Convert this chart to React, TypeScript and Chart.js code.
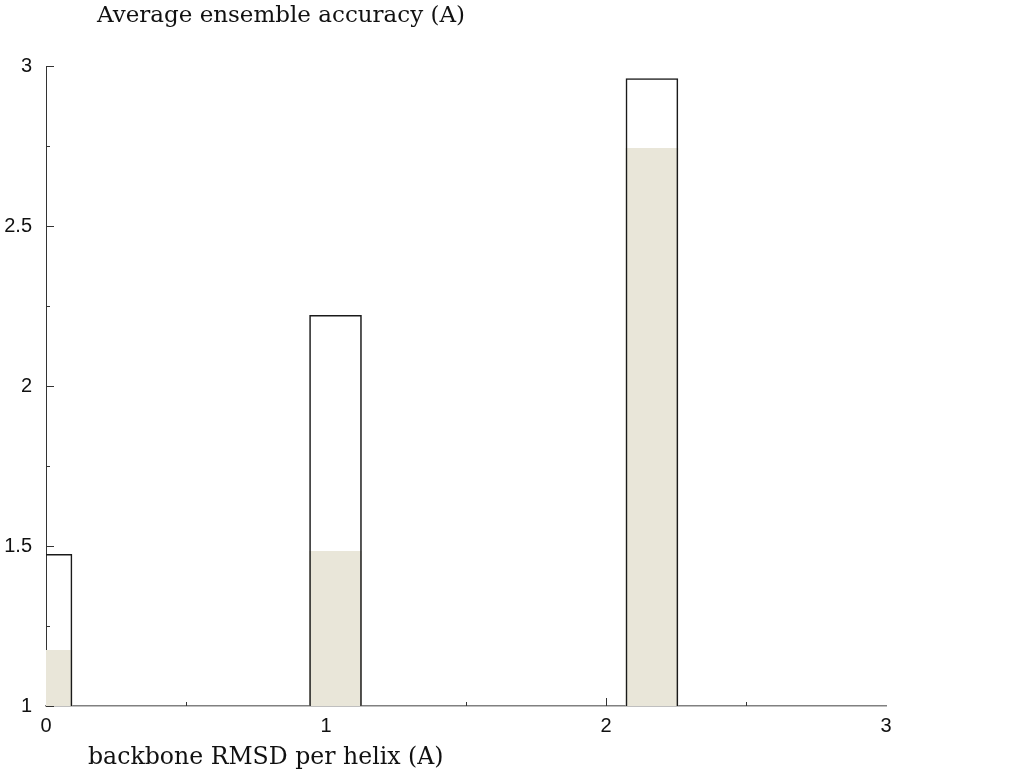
import React, { useEffect, useRef } from "react";
import { Chart, registerables } from "chart.js";

Chart.register(...registerables);

// ---- data ----
const barCenters = [0, 1.034, 2.164];
const totalAccuracy = [1.475, 2.222, 2.962];
const filledAccuracy = [1.175, 1.484, 2.744];
const xMajorTicks = [0, 1, 2, 3];
const xMinorTicks = [0.5, 1.5, 2.5];
const yMajorTicks = [1, 1.5, 2, 2.5, 3];
const yMinorTicks = [1.25, 1.75, 2.25, 2.75];
const chartTitle = "Average ensemble accuracy (A)";
const xAxisTitle = "backbone RMSD per helix (A)";
const barWidthInUnits = 0.188;

const inwardTicks = {
  id: "inwardTicks",
  beforeDatasetsDraw(chart: any) {
    const { ctx, chartArea, scales } = chart;
    const x = scales.x;
    const y = scales.y;
    ctx.save();
    ctx.strokeStyle = "#333";
    ctx.lineWidth = 1;
    const xt = (v: number, len: number) => {
      const px = Math.round(x.getPixelForValue(v)) + 0.5;
      ctx.beginPath();
      ctx.moveTo(px, chartArea.bottom);
      ctx.lineTo(px, chartArea.bottom - len);
      ctx.stroke();
    };
    const yt = (v: number, len: number) => {
      const py = Math.round(y.getPixelForValue(v)) + 0.5;
      ctx.beginPath();
      ctx.moveTo(chartArea.left, py);
      ctx.lineTo(chartArea.left + len, py);
      ctx.stroke();
    };
    xMajorTicks.slice(0, -1).forEach((v) => xt(v, 8));
    xMinorTicks.forEach((v) => xt(v, 4));
    yMajorTicks.forEach((v) => yt(v, 8));
    yMinorTicks.forEach((v) => yt(v, 4));
    ctx.restore();
  },
};

const textLabels = {
  id: "textLabels",
  afterDraw(chart: any) {
    const { ctx, chartArea } = chart;
    ctx.save();
    ctx.fillStyle = "#111";
    ctx.textAlign = "left";
    ctx.textBaseline = "alphabetic";
    ctx.font = "23px 'DejaVu Serif', serif";
    ctx.fillText(chartTitle, chartArea.left + 51, 22);
    ctx.font = "23.6px 'DejaVu Serif', serif";
    ctx.fillText(xAxisTitle, chartArea.left + 42, chartArea.bottom + 58);
    ctx.restore();
  },
};

export default function App() {
  const canvasRef = useRef<HTMLCanvasElement | null>(null);

  useEffect(() => {
    if (!canvasRef.current) return;
    const chart = new Chart(canvasRef.current, {
      type: "bar",
      data: {
        datasets: [
          {
            label: "filled",
            data: barCenters.map((c, i) => ({ x: c, y: filledAccuracy[i] })),
            backgroundColor: "#e9e6d9",
            borderWidth: 0,
            grouped: false,
            categoryPercentage: 1,
            barPercentage: barWidthInUnits,
            clip: 0,
            order: 1,
          } as any,
          {
            label: "total",
            data: barCenters.map((c, i) => ({ x: c, y: totalAccuracy[i] })),
            backgroundColor: "rgba(0,0,0,0)",
            borderColor: "#1a1a1a",
            borderWidth: 1.6,
            grouped: false,
            categoryPercentage: 1,
            barPercentage: barWidthInUnits,
            clip: 0,
            order: 0,
          } as any,
        ],
      },
      options: {
        animation: false,
        responsive: false,
        maintainAspectRatio: false,
        devicePixelRatio: 1,
        layout: { padding: { top: 66, right: 124, left: 0, bottom: 0 } },
        plugins: {
          legend: { display: false },
          title: { display: false },
          tooltip: { enabled: false },
        },
        scales: {
          x: {
            type: "linear",
            offset: false,
            min: 0,
            max: 3,
            afterFit(scale: any) {
              scale.height = 66;
            },
            grid: { display: false, drawTicks: false, offset: false },
            border: { display: true, color: "#808080", width: 1.5 },
            ticks: {
              stepSize: 1,
              padding: 8,
              color: "#111",
              font: { family: "'Liberation Sans', Arial, sans-serif", size: 20 },
              callback: (v: any) => String(v),
            },
          },
          y: {
            type: "linear",
            min: 1,
            max: 3,
            afterFit(scale: any) {
              scale.width = 46;
            },
            grid: { display: false, drawTicks: false },
            border: { display: true, color: "#333", width: 1 },
            ticks: {
              stepSize: 0.5,
              padding: 14,
              color: "#111",
              font: { family: "'Liberation Sans', Arial, sans-serif", size: 20 },
              callback: (v: any) => String(v),
            },
          },
        },
      },
      plugins: [inwardTicks, textLabels],
    });
    return () => chart.destroy();
  }, []);

  return (
    <div style={{ position: "fixed", left: 0, top: 0, width: 1010, height: 772, background: "#fff" }}>
      <canvas ref={canvasRef} width={1010} height={772} style={{ width: 1010, height: 772, display: "block" }} />
    </div>
  );
}
